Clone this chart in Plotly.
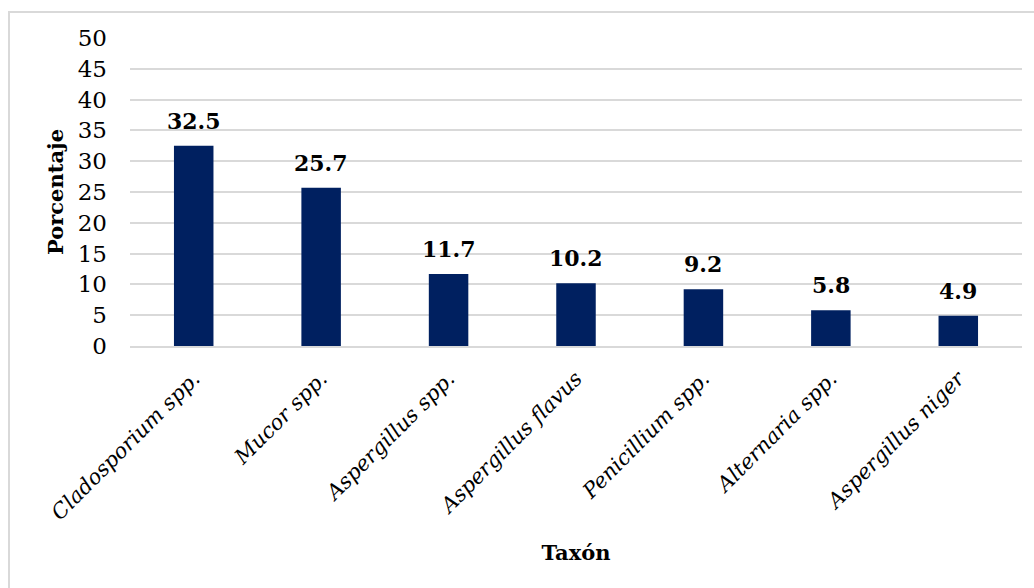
import plotly.graph_objects as go

categories = ["Cladosporium spp.", "Mucor spp.", "Aspergillus spp.", "Aspergillus flavus",
              "Penicillium spp.", "Alternaria spp.", "Aspergillus niger"]
values = [32.5, 25.7, 11.7, 10.2, 9.2, 5.8, 4.9]
y_ticks = [0, 5, 10, 15, 20, 25, 30, 35, 40, 45, 50]

FONT = "DejaVu Serif"
BAR = "#002060"
GRID = "#d9d9d9"

fig = go.Figure()
fig.add_trace(go.Bar(
    x=categories, y=values, marker_color=BAR, marker_line_width=0,
    hoverinfo="skip", showlegend=False,
))

for c, v in zip(categories, values):
    fig.add_annotation(x=c, y=v, text=f"<b>{v:.1f}</b>", showarrow=False,
                       yanchor="bottom", yshift=10,
                       font=dict(family=FONT, size=22, color="black"))

W, H = 1034, 588
ml, mr, mt, mb = 130, 12, 38, 242
pw, ph = W - ml - mr, H - mt - mb
fig.add_shape(type="rect", xref="paper", yref="paper",
              x0=(9 - ml) / pw, x1=(W + 10 - ml) / pw,
              y0=-(H + 10 - (H - mb)) / ph, y1=1 + (mt - 12) / ph,
              line=dict(color="#d9d9d9", width=2), fillcolor="rgba(0,0,0,0)", layer="below")

fig.update_layout(
    width=W, height=H,
    margin=dict(l=ml, r=mr, t=mt, b=mb, pad=0),
    paper_bgcolor="white", plot_bgcolor="white",
    bargap=0.69,
    font=dict(family=FONT, color="black"),
    xaxis=dict(
        tickangle=-45, tickfont=dict(family=FONT, size=21, color="black", style="italic"),
        showgrid=False, showline=True, linecolor=GRID, linewidth=2,
        ticks="", ticklabelstandoff=10,
        title=dict(text="<b>Taxón</b>", font=dict(family=FONT, size=21, color="black"), standoff=22),
    ),
    yaxis=dict(
        range=[0, 50], tickvals=y_ticks, ticktext=[str(t) for t in y_ticks],
        tickfont=dict(family=FONT, size=23, color="black"),
        showgrid=True, gridcolor=GRID, gridwidth=1.5, zeroline=False,
        ticks="", ticklabelstandoff=22,
        title=dict(text="<b>Porcentaje</b>", font=dict(family=FONT, size=21, color="black"), standoff=8),
    ),
)

fig.write_html("out.html")
